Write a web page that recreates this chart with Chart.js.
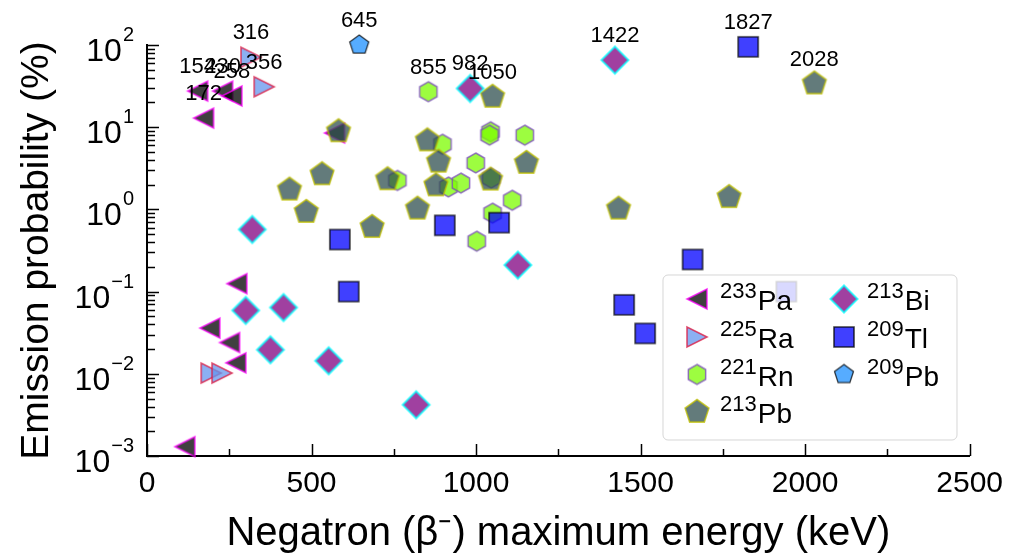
<!DOCTYPE html>
<html><head><meta charset="utf-8">
<script src="https://cdn.jsdelivr.net/npm/chart.js@4"></script>
<style>html,body{margin:0;padding:0;background:#fff}#wrap{width:1013px;height:558px;position:relative}</style>
</head><body><div id="wrap"><canvas id="c" width="1013" height="558"></canvas></div>
<script>
const FONT = "'Liberation Sans', Arial, Helvetica, sans-serif";

// ---- data (energy keV, emission probability %) ----
const pa233Energy = [154, 172, 230, 258, 273, 191, 251, 270, 115, 570];
const pa233Prob   = [27.5, 12.9, 27.5, 24, 0.125, 0.036, 0.024, 0.0136, 0.0013, 8.5];
const pa233Labels = ['154', '172', '230', '258', '', '', '', '', '', ''];

const ra225Energy = [316, 356, 195, 228];
const ra225Prob   = [71, 31, 0.0102, 0.0102];
const ra225Labels = ['316', '356', '', ''];

const rn221Energy = [855, 898, 1044, 1041, 1148, 999, 916, 954, 1046, 1110, 1050, 1002, 761];
const rn221Prob   = [27, 6.2, 8.8, 8.0, 8.0, 3.67, 1.87, 2.09, 2.4, 1.29, 0.90, 0.41, 2.25];
const rn221Labels = ['855', '', '', '', '', '', '', '', '', '', '', '', ''];

const pb213Energy = [582, 532, 433, 484, 684, 731, 1050, 852, 886, 1153, 878, 1044, 822, 1433, 1769, 2028];
const pb213Prob   = [8.9, 2.67, 1.74, 0.93, 0.61, 2.32, 23.4, 6.9, 3.8, 3.67, 1.96, 2.3, 1.02, 1.02, 1.41, 34];
const pb213Labels = ['', '', '', '', '', '', '1050', '', '', '', '', '', '', '', '', '2028'];

const bi213Energy = [1422, 982, 320, 1127, 300, 415, 375, 552, 818];
const bi213Prob   = [65.5, 29.6, 0.57, 0.21, 0.059, 0.064, 0.0196, 0.0144, 0.0042];
const bi213Labels = ['1422', '982', '', '', '', '', '', '', ''];

const tl209Energy = [1827, 586, 613, 905, 1070, 1658, 1450, 1514, 1943];
const tl209Prob   = [95, 0.43, 0.1, 0.64, 0.69, 0.246, 0.069, 0.031, 0.1];
const tl209Labels = ['1827', '', '', '', '', '', '', '', ''];

const pb209Energy = [645];
const pb209Prob   = [100];
const pb209Labels = ['645'];

const xTicks = [0, 500, 1000, 1500, 2000, 2500];
const yDecades = [-3, -2, -1, 0, 1, 2];

// ---- marker sprites ----
function regular(n, R, start) {
  const p = [];
  for (let k = 0; k < n; k++) { const a = (start + k * 360 / n) * Math.PI / 180; p.push([R * Math.cos(a), R * Math.sin(a)]); }
  return p;
}
function sprite(pts, fill, stroke, lw) {
  const c = document.createElement('canvas'); c.width = 36; c.height = 36;
  const g = c.getContext('2d'); g.translate(18, 18);
  g.beginPath(); g.moveTo(pts[0][0], pts[0][1]);
  for (let i = 1; i < pts.length; i++) g.lineTo(pts[i][0], pts[i][1]);
  g.closePath(); g.fillStyle = fill; g.fill();
  g.lineWidth = lw; g.strokeStyle = stroke; g.lineJoin = 'miter'; g.stroke();
  return c;
}
const mkPa = sprite([[-10, 0], [10, -10], [10, 10]], 'rgba(0,0,0,0.75)', 'rgba(255,0,255,0.75)', 1.6);
const mkRa = sprite([[10, 0], [-10, -10], [-10, 10]], 'rgba(100,149,237,0.75)', 'rgba(220,20,60,0.75)', 1.6);
const mkRn = sprite(regular(6, 10, -90), 'rgba(124,252,0,0.75)', 'rgba(120,70,190,0.75)', 1.5);
const mkPb213 = sprite(regular(5, 12.5, -90), 'rgba(47,79,79,0.75)', 'rgba(191,191,0,0.75)', 1.6);
const mkBi = sprite([[-13.5, 0], [0, -13.5], [13.5, 0], [0, 13.5]], 'rgba(128,0,128,0.75)', 'rgba(0,255,255,0.75)', 2);
const mkTl = sprite([[-10, -10], [10, -10], [10, 10], [-10, 10]], 'rgba(0,0,255,0.75)', 'rgba(0,0,0,0.75)', 1.6);
const mkPb209 = sprite(regular(5, 10, -90), 'rgba(30,144,255,0.75)', 'rgba(0,0,0,0.75)', 1.3);

function pts(xs, ys) { return xs.map((x, i) => ({ x: x, y: ys[i] })); }
function ds(label, xs, ys, labels, style, order) {
  return { label, data: pts(xs, ys), labels, pointStyle: style, pointRadius: 12, pointHoverRadius: 12, order, clip: false, showLine: false };
}
const datasets = [
  ds('233Pa', pa233Energy, pa233Prob, pa233Labels, mkPa, 7),
  ds('225Ra', ra225Energy, ra225Prob, ra225Labels, mkRa, 6),
  ds('221Rn', rn221Energy, rn221Prob, rn221Labels, mkRn, 5),
  ds('213Pb', pb213Energy, pb213Prob, pb213Labels, mkPb213, 4),
  ds('213Bi', bi213Energy, bi213Prob, bi213Labels, mkBi, 3),
  ds('209Tl', tl209Energy, tl209Prob, tl209Labels, mkTl, 2),
  ds('209Pb', pb209Energy, pb209Prob, pb209Labels, mkPb209, 1)
];
const legendItems = [
  { sup: '233', sym: 'Pa', mk: mkPa, col: 0, row: 0 },
  { sup: '225', sym: 'Ra', mk: mkRa, col: 0, row: 1 },
  { sup: '221', sym: 'Rn', mk: mkRn, col: 0, row: 2 },
  { sup: '213', sym: 'Pb', mk: mkPb213, col: 0, row: 3 },
  { sup: '213', sym: 'Bi', mk: mkBi, col: 1, row: 0 },
  { sup: '209', sym: 'Tl', mk: mkTl, col: 1, row: 1 },
  { sup: '209', sym: 'Pb', mk: mkPb209, col: 1, row: 2 }
];

const extras = {
  id: 'extras',
  afterDatasetsDraw(chart) {
    const ctx = chart.ctx, xs = chart.scales.x, ys = chart.scales.y, ca = chart.chartArea;
    ctx.save();
    // ticks (inward)
    ctx.strokeStyle = '#000'; ctx.lineWidth = 1.5;
    ctx.beginPath();
    for (let v = 0; v <= 2500; v += 250) {
      const px = Math.round(xs.getPixelForValue(v)) + 0.5;
      const len = (v % 500 === 0) ? 12 : 7;
      ctx.moveTo(px, ca.bottom); ctx.lineTo(px, ca.bottom - len);
    }
    for (let d = -3; d <= 2; d++) {
      for (let m = 1; m <= 9; m++) {
        const v = m * Math.pow(10, d);
        if (v > 100.0001) break;
        const py = Math.round(ys.getPixelForValue(v)) + 0.5;
        const len = m === 1 ? 12 : 8;
        ctx.moveTo(ca.left, py); ctx.lineTo(ca.left + len, py);
      }
    }
    ctx.stroke();
    // y tick labels 10^n
    ctx.fillStyle = '#000';
    yDecades.forEach(d => {
      const py = ys.getPixelForValue(Math.pow(10, d));
      const ex = d < 0 ? '\u2212' + (-d) : String(d);
      ctx.font = '20px ' + FONT; ctx.textBaseline = 'alphabetic';
      const ew = ctx.measureText(ex).width;
      const right = ca.left - 13;
      ctx.textAlign = 'left'; ctx.fillText(ex, right - ew, py - 4);
      ctx.font = '32px ' + FONT; ctx.textAlign = 'right';
      ctx.fillText('10', right - ew - 1, py + 16);
    });
    // data labels
    ctx.font = '22px ' + FONT; ctx.textAlign = 'center'; ctx.textBaseline = 'alphabetic';
    chart.data.datasets.forEach((dset, i) => {
      const meta = chart.getDatasetMeta(i);
      dset.labels.forEach((t, j) => {
        if (!t) return;
        const el = meta.data[j];
        ctx.fillText(t, el.x, el.y - 18);
      });
    });
    // legend
    const bx = 663, by = 275, bw = 294, bh = 165, r = 5;
    ctx.beginPath();
    ctx.moveTo(bx + r, by); ctx.lineTo(bx + bw - r, by); ctx.arcTo(bx + bw, by, bx + bw, by + r, r);
    ctx.lineTo(bx + bw, by + bh - r); ctx.arcTo(bx + bw, by + bh, bx + bw - r, by + bh, r);
    ctx.lineTo(bx + r, by + bh); ctx.arcTo(bx, by + bh, bx, by + bh - r, r);
    ctx.lineTo(bx, by + r); ctx.arcTo(bx, by, bx + r, by, r); ctx.closePath();
    ctx.fillStyle = 'rgba(255,255,255,0.8)'; ctx.fill();
    ctx.strokeStyle = 'rgba(204,204,204,0.8)'; ctx.lineWidth = 1; ctx.stroke();
    const colMk = [697, 844], colTx = [720, 867], rowY = [299, 337, 374.5, 412];
    ctx.fillStyle = '#000'; ctx.textAlign = 'left'; ctx.textBaseline = 'alphabetic';
    legendItems.forEach(it => {
      const y = rowY[it.row];
      ctx.drawImage(it.mk, colMk[it.col] - 18, y - 18);
      ctx.font = '22px ' + FONT; ctx.fillText(it.sup, colTx[it.col], y - 1);
      const sw = ctx.measureText(it.sup).width;
      ctx.font = '28px ' + FONT; ctx.fillText(it.sym, colTx[it.col] + sw + 1, y + 11);
    });
    ctx.restore();
  }
};

new Chart(document.getElementById('c'), {
  type: 'scatter',
  data: { datasets },
  options: {
    responsive: false, animation: false, devicePixelRatio: 1,
    layout: { padding: { top: 45, right: 40, left: 0, bottom: 0 } },
    plugins: { legend: { display: false }, tooltip: { enabled: false } },
    scales: {
      x: {
        type: 'linear', min: 0, max: 2500,
        afterFit: s => { s.height = 102; },
        afterBuildTicks: s => { s.ticks = xTicks.map(v => ({ value: v })); },
        ticks: { font: { size: 30, family: FONT }, color: '#000', padding: 10, maxRotation: 0, autoSkip: false, callback: v => String(v) },
        grid: { display: false, drawTicks: false },
        border: { display: true, color: '#000', width: 2 },
        title: { display: true, text: 'Negatron (\u03b2\u207b) maximum energy (keV)', font: { size: 40, family: FONT }, color: '#000', padding: { top: 0, bottom: 0 } }
      },
      y: {
        type: 'logarithmic', min: 0.001, max: 100,
        afterFit: s => { s.width = 147; },
        ticks: { display: false },
        grid: { display: false, drawTicks: false },
        border: { display: true, color: '#000', width: 2 },
        title: { display: true, text: 'Emission probability (%)', font: { size: 39, family: FONT }, color: '#000', padding: { top: 14, bottom: 0 } }
      }
    }
  },
  plugins: [extras]
});
</script></body></html>
